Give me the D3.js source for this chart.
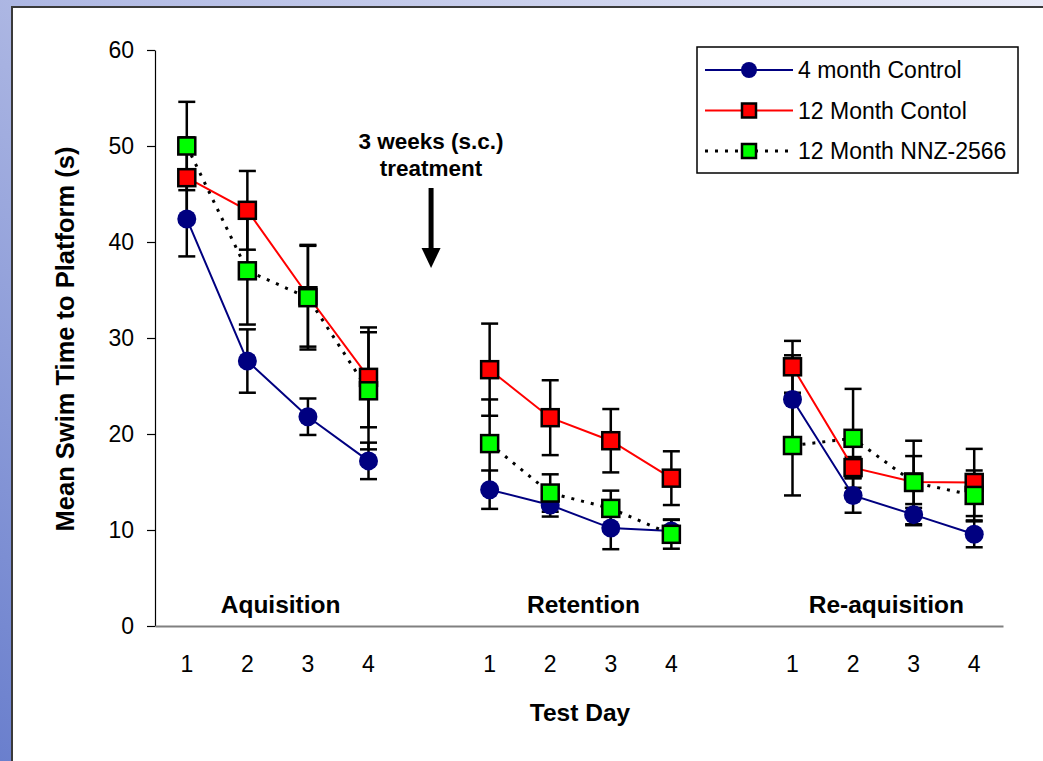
<!DOCTYPE html>
<html>
<head>
<meta charset="utf-8">
<script src="https://cdn.jsdelivr.net/npm/d3@7"></script>
<style>
  body { margin: 0; padding: 0; background: #fff; }
  svg { display: block; font-family: "Liberation Sans", Arial, sans-serif; }
</style>
</head>
<body>
<script>
// data
const phases = ["Aquisition", "Retention", "Re-aquisition"];
const days = ["1", "2", "3", "4"];
const yTicks = [0, 10, 20, 30, 40, 50, 60];

const seriesNames = ["4 month Control", "12 Month Contol", "12 Month NNZ-2566"];

// values per phase (4 days each)
const control4 = [42.4, 27.6, 21.8, 17.2,  14.2, 12.6, 10.2, 9.9,  23.6, 13.6, 11.6, 9.55];
const control4Err = [3.9, 3.3, 1.9, 1.9,  2.0, 1.2, 2.2, 1.2,  4.6, 1.8, 1.1, 1.35];
const control12 = [46.7, 43.3, 34.4, 25.9,  26.7, 21.7, 19.3, 15.4,  27.0, 16.5, 15.0, 14.95];
const control12Err = [4.2, 4.1, 5.3, 5.2,  4.8, 3.9, 3.3, 2.8,  2.7, 1.1, 2.7, 3.5];
const nnz12 = [50.0, 37.0, 34.2, 24.5,  19.0, 13.85, 12.25, 9.55,  18.8, 19.55, 14.95, 13.6];
const nnz12Err = [4.6, 5.6, 5.4, 6.1,  4.6, 1.95, 1.85, 1.5,  5.2, 5.15, 4.35, 2.6];

// constants
const W = 1043, H = 761;
const AX_LEFT = 155, AX_RIGHT = 1003, AX_TOP = 50, AX_BOTTOM = 626;
const FONT = "'Liberation Sans', Arial, sans-serif";

// slots on the x axis: 4 days per phase, one empty slot between phases
var slots = [];
phases.forEach(function(p, pi) {
    days.forEach(function(d) { slots.push(pi + "_" + d); });
    if (pi < phases.length - 1) slots.push("gap" + pi);
});

function makeSeries(vals, errs) {
    return vals.map(function(v, i) {
        return {slot: Math.floor(i / 4) + "_" + days[i % 4], phase: Math.floor(i / 4), v: v, e: errs[i]};
    });
}

var series = [
    {name: seriesNames[0], data: makeSeries(control4, control4Err), color: "#000080", marker: "circle", dash: null, width: 2},
    {name: seriesNames[1], data: makeSeries(control12, control12Err), color: "#ff0000", marker: "square", fill: "#ff0000", dash: null, width: 2},
    {name: seriesNames[2], data: makeSeries(nnz12, nnz12Err), color: "#000000", marker: "square", fill: "#00ff00", dash: "3,7", width: 3}
];

var svg = d3.select("body").append("svg")
    .attr("width", W)
    .attr("height", H);

// slide background
var defs = svg.append("defs");
var grad = defs.append("linearGradient")
    .attr("id", "bg")
    .attr("x1", "1").attr("y1", "0")
    .attr("x2", "0").attr("y2", "1");
grad.append("stop").attr("offset", "0").attr("stop-color", "#e8eaf7");
grad.append("stop").attr("offset", "0.45").attr("stop-color", "#b3bce5");
grad.append("stop").attr("offset", "1").attr("stop-color", "#6a7fcd");

svg.append("rect").attr("width", W).attr("height", H).attr("fill", "url(#bg)");
svg.append("rect")
    .attr("x", 12).attr("y", 7)
    .attr("width", W).attr("height", H)
    .attr("fill", "white")
    .attr("stroke", "#3a3a3a")
    .attr("stroke-width", 2);

// scales
var xScale = d3.scaleBand().domain(slots).range([AX_LEFT, AX_RIGHT]);
var yScale = d3.scaleLinear().domain([0, 60]).range([AX_BOTTOM, AX_TOP]);
var cx = function(s) { return xScale(s) + xScale.bandwidth() / 2 + 1.5; };

// axes
var yAxis = d3.axisLeft(yScale).tickValues(yTicks).tickSize(8).tickSizeOuter(0).tickPadding(13);
var gy = svg.append("g")
    .attr("transform", "translate(" + AX_LEFT + ",0)")
    .call(yAxis);
gy.select(".domain").attr("stroke", "#000").attr("stroke-width", 1.2);
gy.selectAll(".tick line").attr("stroke", "#000").attr("stroke-width", 1.2);
gy.selectAll(".tick text")
    .attr("font-family", FONT)
    .attr("font-size", "23px")
    .attr("fill", "#000");

var xAxis = d3.axisBottom(xScale).tickSize(0).tickSizeOuter(0).tickPadding(30)
    .tickFormat(function(s) { return s.indexOf("gap") === 0 ? "" : s.split("_")[1]; });
var gx = svg.append("g")
    .attr("transform", "translate(0," + AX_BOTTOM + ")")
    .call(xAxis);
gx.select(".domain").attr("stroke", "#808080").attr("stroke-width", 2);
gx.selectAll(".tick text")
    .attr("font-family", FONT)
    .attr("font-size", "23px")
    .attr("fill", "#000")
    .attr("dx", 1.5);

// axis titles
svg.append("text")
    .attr("transform", "translate(" + 74 + "," + 339 + ") rotate(-90)")
    .attr("text-anchor", "middle")
    .attr("font-family", FONT)
    .attr("font-weight", "bold")
    .attr("font-size", "25.5px")
    .text("Mean Swim Time to Platform (s)");

svg.append("text")
    .attr("x", 580)
    .attr("y", 721)
    .attr("text-anchor", "middle")
    .attr("font-family", FONT)
    .attr("font-weight", "bold")
    .attr("font-size", "24.5px")
    .text("Test Day");

// phase labels, centred over days 1-4 of each phase
phases.forEach(function(p, pi) {
    var mid = (cx(pi + "_1") + cx(pi + "_4")) / 2;
    svg.append("text")
        .attr("x", mid + 3)
        .attr("y", 613)
        .attr("text-anchor", "middle")
        .attr("font-family", FONT)
        .attr("font-weight", "bold")
        .attr("font-size", "24.5px")
        .text(p);
});

// treatment annotation and arrow
var arrowX = cx("gap0") + 2;
svg.append("text")
    .attr("x", arrowX)
    .attr("y", 149)
    .attr("text-anchor", "middle")
    .attr("font-family", FONT)
    .attr("font-weight", "bold")
    .attr("font-size", "22.5px")
    .text("3 weeks (s.c.)");
svg.append("text")
    .attr("x", arrowX)
    .attr("y", 176)
    .attr("text-anchor", "middle")
    .attr("font-family", FONT)
    .attr("font-weight", "bold")
    .attr("font-size", "22.5px")
    .text("treatment");
svg.append("line")
    .attr("x1", arrowX).attr("x2", arrowX)
    .attr("y1", 188).attr("y2", 252)
    .attr("stroke", "#000")
    .attr("stroke-width", 5);
svg.append("path")
    .attr("d", "M" + (arrowX - 9.5) + ",248 L" + (arrowX + 9.5) + ",248 L" + arrowX + ",268 Z")
    .attr("fill", "#000");

// plot
var line = d3.line()
    .x(function(d) { return cx(d.slot); })
    .y(function(d) { return yScale(d.v); });

var CAP = 8.5;
var errG = svg.append("g");
var lineG = svg.append("g");
var markG = svg.append("g");

series.forEach(function(s) {
    // error bars
    s.data.forEach(function(d) {
        var x = cx(d.slot);
        var y1 = yScale(d.v + d.e), y2 = yScale(d.v - d.e);
        errG.append("line").attr("x1", x).attr("x2", x).attr("y1", y1).attr("y2", y2)
            .attr("stroke", "#000").attr("stroke-width", 2.5);
        [y1, y2].forEach(function(yy) {
            errG.append("line").attr("x1", x - CAP).attr("x2", x + CAP).attr("y1", yy).attr("y2", yy)
                .attr("stroke", "#000").attr("stroke-width", 2.5);
        });
    });
});

series.forEach(function(s) {
    // line segments, one per phase
    phases.forEach(function(p, pi) {
        var seg = s.data.filter(function(d) { return d.phase === pi; });
        lineG.append("path")
            .attr("d", line(seg))
            .attr("fill", "none")
            .attr("stroke", s.color)
            .attr("stroke-width", s.width)
            .attr("stroke-dasharray", s.dash);
    });
});

function drawMarker(g, s, x, y, big) {
    if (s.marker === "circle") {
        g.append("circle")
            .attr("cx", x).attr("cy", y)
            .attr("r", big ? 9.5 : 8)
            .attr("fill", s.color);
    } else {
        var side = big ? 17 : 14;
        g.append("rect")
            .attr("x", x - side / 2).attr("y", y - side / 2)
            .attr("width", side).attr("height", side)
            .attr("fill", s.fill)
            .attr("stroke", "#000")
            .attr("stroke-width", 2.5);
    }
}

series.forEach(function(s) {
    s.data.forEach(function(d) {
        drawMarker(markG, s, cx(d.slot), yScale(d.v), true);
    });
});

// legend
var legend = svg.append("g");
legend.append("rect")
    .attr("x", 697).attr("y", 47)
    .attr("width", 321).attr("height", 126)
    .attr("fill", "white")
    .attr("stroke", "#000")
    .attr("stroke-width", 1.5);

series.forEach(function(s, i) {
    var ly = 70 + i * 40.5;
    legend.append("line")
        .attr("x1", 705).attr("x2", 793)
        .attr("y1", ly).attr("y2", ly)
        .attr("stroke", s.color)
        .attr("stroke-width", s.width)
        .attr("stroke-dasharray", s.dash);
    drawMarker(legend, s, 749, ly, false);
    legend.append("text")
        .attr("x", 798)
        .attr("y", ly)
        .attr("dy", "0.35em")
        .attr("font-family", FONT)
        .attr("font-size", "23px")
        .text(s.name);
});
</script>
</body>
</html>
